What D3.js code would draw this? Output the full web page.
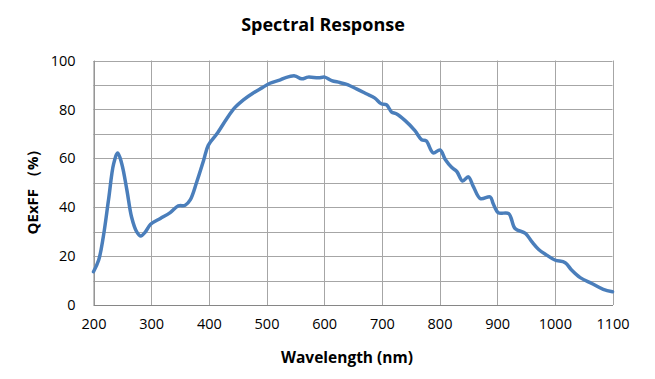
<!DOCTYPE html>
<html><head><meta charset="utf-8">
<script src="https://cdn.jsdelivr.net/npm/d3@7"></script>
<style>body{margin:0;background:#fff;} text{font-family:"Open Sans",sans-serif;fill:#000;}</style>
</head><body>
<svg id="c" width="655" height="379"></svg>
<script>
const wavelengths = [200,209,217,226,235,242,249,258,266,275,282,290,299,316,333,347,359,368,379,391,399,414,431,445,460,477,492,506,524,532,549,561,572,590,601,613,627,639,656,673,688,699,708,717,725,740,757,769,777,789,801,810,821,830,840,850,859,871,888,893,902,920,931,949,960,972,986,1000,1018,1029,1044,1064,1084,1100];
const qe = [13.6,18.4,27.9,42.9,57.8,62.2,57.8,46.9,36,29.9,28.2,29.9,33,35.4,37.8,40.5,40.8,43.1,50.3,59.2,65.3,70,76.2,80.7,83.9,86.7,88.8,90.7,92.1,92.9,93.7,92.5,93.2,92.9,93.2,91.8,91,90.2,88.4,86.4,84.6,82.3,81.9,78.9,78.2,75.5,71.4,67.6,67.1,62.2,63.4,59.5,56.3,54.6,50.7,52.4,48.3,43.5,44.2,41.5,37.7,37.4,31.3,29.3,25.9,22.7,20.4,18.4,17.3,14.3,11.2,8.8,6.4,5.4];
const xTicks = [200,300,400,500,600,700,800,900,1000,1100];
const yTicks = [0,20,40,60,80,100];
const yGrid = [0,10,20,30,40,50,60,70,80,90,100];
const title = "Spectral Response";
const xTitle = "Wavelength (nm)";
const yTitle = "QExFF （%）";

const svg = d3.select("#c");
const m = {l:93.5, r:612.5, t:60.5, b:305};
const x = d3.scaleLinear().domain([200,1100]).range([m.l,m.r]);
const y = d3.scaleLinear().domain([0,100]).range([m.b,m.t]);

const g = svg.append("g");
g.selectAll("line.h").data(yGrid).enter().append("line")
  .attr("x1",m.l).attr("x2",m.r).attr("y1",d=>Math.round(y(d))+0.5).attr("y2",d=>Math.round(y(d))+0.5)
  .attr("stroke","#a6a6a6").attr("stroke-width",1);
g.selectAll("line.v").data(xTicks).enter().append("line")
  .attr("y1",m.t).attr("y2",m.b).attr("x1",d=>Math.round(x(d))+0.5).attr("x2",d=>Math.round(x(d))+0.5)
  .attr("stroke","#a6a6a6").attr("stroke-width",1);

const xAxis = svg.append("g").attr("transform",`translate(0,${m.b})`)
  .call(d3.axisBottom(x).tickValues(xTicks).tickFormat(d3.format("d")).tickSize(0).tickPadding(14));
xAxis.select(".domain").attr("stroke","#868686");
xAxis.selectAll("text").style("font-size","14.5px").style("font-family","'Open Sans',sans-serif");

const yAxis = svg.append("g").attr("transform",`translate(${m.l},0)`)
  .call(d3.axisLeft(y).tickValues(yTicks).tickFormat(d3.format("d")).tickSize(0).tickPadding(18));
yAxis.select(".domain").attr("stroke","#868686");
yAxis.selectAll("text").style("font-size","14.5px").style("font-family","'Open Sans',sans-serif");

const line = d3.line().x((d,i)=>x(wavelengths[i])).y(d=>y(d)).curve(d3.curveCatmullRom.alpha(0.5));
svg.append("path").datum(qe).attr("d",line).attr("fill","none")
  .attr("stroke","#4a7ebb").attr("stroke-width",3.5).attr("stroke-linejoin","round").attr("stroke-linecap","round");

svg.append("text").attr("x",323).attr("y",31).attr("text-anchor","middle")
  .style("font-size","18px").style("font-weight","bold").text(title);
svg.append("text").attr("x",347).attr("y",363).attr("text-anchor","middle")
  .style("font-size","15.5px").style("font-weight","bold").text(xTitle);
svg.append("text").attr("transform","translate(38,188) rotate(-90)").attr("text-anchor","middle")
  .style("font-size","15px").style("font-weight","bold").text(yTitle);
</script>
</body></html>
